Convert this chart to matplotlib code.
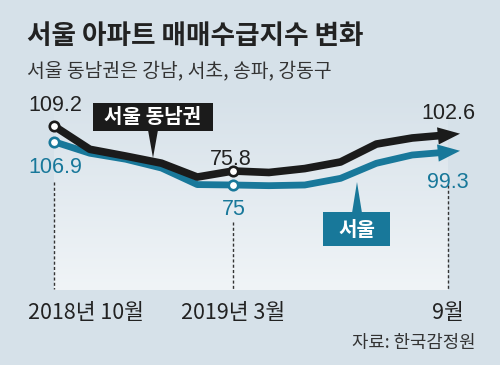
import numpy as np
import matplotlib
matplotlib.use('Agg')
import matplotlib.pyplot as plt
from matplotlib.patches import Rectangle, Polygon
from matplotlib.transforms import offset_copy, blended_transform_factory

# ---- data ----
months = list(range(12))  # 2018-10 ... 2019-09
gangnam = [109.2, 91.9, 86.9, 81.6, 71.3, 75.8, 74.7, 77.6, 82.5, 95.8, 100.3, 102.6]
seoul = [106.9, 98.4, 94.0, 87.5, 75.3, 75.0, 74.5, 75.0, 79.9, 91.0, 97.1, 99.3]
tick_pos = [0, 5, 11]
tick_labels = ['2018년 10월', '2019년 3월', '9월']
label_idx = [0, 5, 11]
title = '서울 아파트 매매수급지수 변화'
subtitle = '서울 동남권은 강남, 서초, 송파, 강동구'
source = '자료: 한국감정원'
name_g = '서울 동남권'
name_s = '서울'

KR = ['Noto Sans CJK KR', 'DejaVu Sans']
NUM = ['Liberation Sans', 'DejaVu Sans']
BG = '#d6e1e9'
LIGHT = '#f0f4f7'
BLACK = '#1b1b1b'
TEAL = '#18789a'
TXT = '#222222'

W, H = 500, 365
fig = plt.figure(figsize=(W / 100, H / 100), dpi=100, facecolor=BG)

# background / decoration axes in pixel coordinates
bg = fig.add_axes([0, 0, 1, 1])
bg.set_xlim(0, W)
bg.set_ylim(H, 0)
bg.axis('off')
bg.set_facecolor(BG)

c0 = np.array(matplotlib.colors.to_rgb(BG))
c1 = np.array(matplotlib.colors.to_rgb(LIGHT))
t = np.linspace(0, 1, 200)[:, None]
grad = (c0 * (1 - t) + c1 * t)[:, None, :]
bg.imshow(grad, extent=(54, 448, 290, 92), aspect='auto', origin='upper', zorder=0)

# data axes (pixel mapping: x = 54 + 35.82*i)
px_per_month = 35.82
xlim = (-54 / px_per_month, (W - 54) / px_per_month)

ax_s = fig.add_axes([0, 0, 1, 1], facecolor='none')
ax_s.set_xlim(*xlim)
ax_s.set_ylim(-57.65, 211.32)
ax_s.axis('off')

ax_g = fig.add_axes([0, 0, 1, 1], facecolor='none')
ax_g.set_xlim(*xlim)
ax_g.set_ylim(-68.23, 202.74)
ax_g.axis('off')

# dashed guide lines
tr = blended_transform_factory(ax_g.transData, bg.transData)
for x, y0 in zip(tick_pos, [182, 222, 185]):
    bg.plot([x, x], [y0, 289], transform=tr, color='#333333', lw=1.0,
            dashes=(2.2, 1.6), zorder=1)

def draw_series(ax, vals, color, lw, ms):
    ax.plot(months, vals, color=color, lw=lw, solid_joinstyle='round',
            solid_capstyle='butt', zorder=3)
    # arrow head beyond the last point
    tip = offset_copy(ax.transData, fig=fig, x=12, y=1.2, units='dots')
    ax.annotate('', xy=(months[-1], vals[-1]), xycoords=tip,
                xytext=(-24, -2.4), textcoords='offset pixels',
                arrowprops=dict(arrowstyle='-|>,head_length=1.6,head_width=0.62',
                                mutation_scale=10, color=color, lw=0,
                                shrinkA=0, shrinkB=0), zorder=4)
    ax.plot([months[i] for i in (0, 5)], [vals[i] for i in (0, 5)], 'o',
            ms=ms, mfc='white', mec=color, mew=1.9, zorder=5)

draw_series(ax_s, seoul, TEAL, 4.9, 6.8)
draw_series(ax_g, gangnam, BLACK, 5.5, 6.8)

# value labels
g_off = [(1, 20), (-2, 11), (0, 21)]
s_off = [(1, -26), (1, -25), (0, -30)]
for i, off in zip(label_idx, g_off):
    ax_g.annotate(f'{gangnam[i]:g}', xy=(i, gangnam[i]), xytext=off,
                  textcoords='offset pixels', ha='center', va='center',
                  fontsize=15.5, family=NUM, color=TXT, zorder=6)
for i, off in zip(label_idx, s_off):
    ax_s.annotate(f'{seoul[i]:g}', xy=(i, seoul[i]), xytext=off,
                  textcoords='offset pixels', ha='center', va='center',
                  fontsize=15.5, family=NUM, color=TEAL, zorder=6)

# name boxes with pointers (pixel coords)
bg.add_patch(Rectangle((93, 103), 120, 28, facecolor=BLACK, edgecolor='none', zorder=2))
bg.add_patch(Polygon([(148, 130), (158, 130), (153, 158)], closed=True,
                     facecolor=BLACK, edgecolor='none', zorder=2))
bg.text(153, 116.5, name_g, ha='center', va='center', fontsize=14.5,
        fontweight='bold', family=KR, color='white', zorder=3)

bg.add_patch(Rectangle((323, 212), 67, 34, facecolor=TEAL, edgecolor='none', zorder=2))
bg.add_patch(Polygon([(352, 213), (362, 213), (357, 182)], closed=True,
                     facecolor=TEAL, edgecolor='none', zorder=2))
bg.text(356.5, 229, name_s, ha='center', va='center', fontsize=14.5,
        fontweight='bold', family=KR, color='white', zorder=3)

# titles
bg.text(27, 37, title, ha='left', va='center', fontsize=19.2, fontweight='bold',
        family=KR, color=TXT)
bg.text(27, 71, subtitle, ha='left', va='center', fontsize=13.9,
        family=KR, color='#333333')

# x tick labels
trx = blended_transform_factory(ax_g.transData, bg.transData)
for x, lab in zip(tick_pos, tick_labels):
    if x == tick_pos[0]:
        bg.annotate(lab, xy=(x, 313), xycoords=trx, xytext=(-26, 0),
                    textcoords='offset pixels', ha='left', va='center',
                    fontsize=15.5, family=KR, color=TXT)
    else:
        bg.text(x, 313, lab, transform=trx, ha='center', va='center',
                fontsize=15.5, family=KR, color=TXT)

bg.text(476, 343, source, ha='right', va='center', fontsize=12.8,
        family=KR, color='#333333')

fig.savefig('out.png', dpi=100, facecolor=BG)
